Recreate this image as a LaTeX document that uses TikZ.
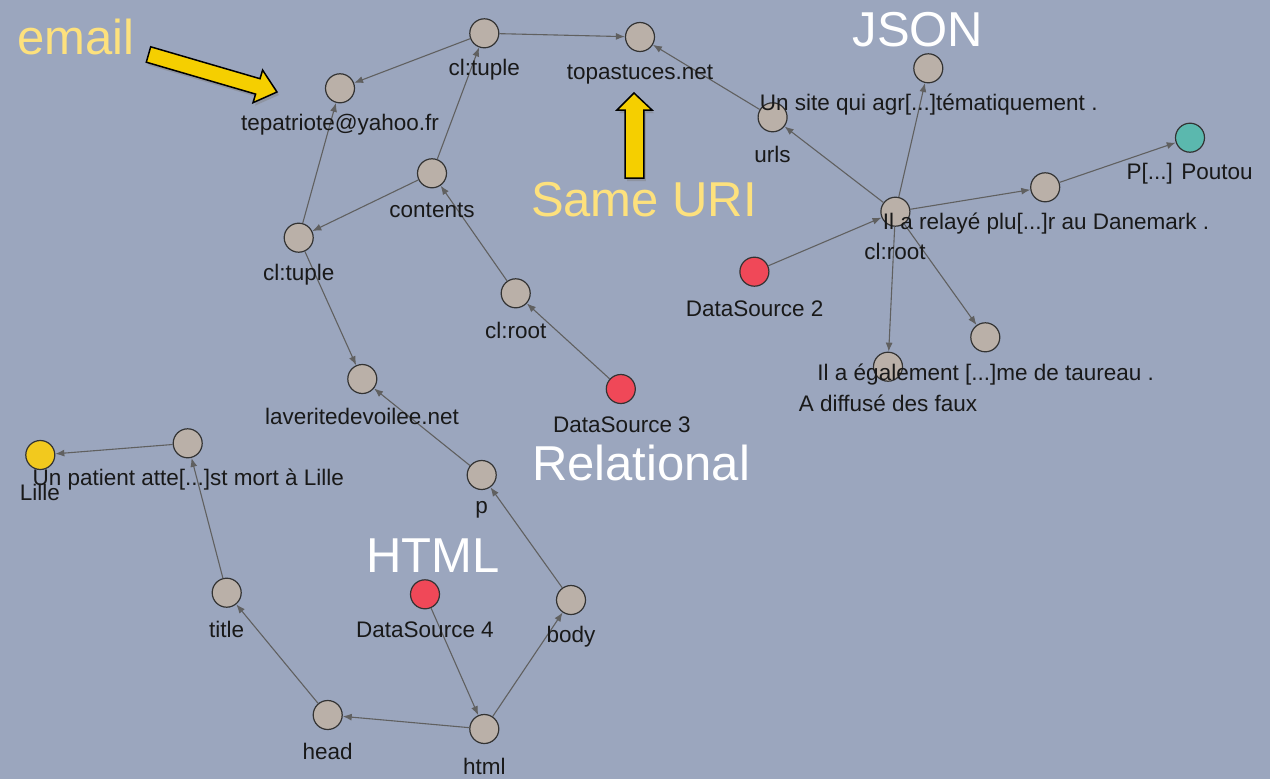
\documentclass[tikz,border=0pt]{standalone}
\usepackage{fontspec}
\setmainfont{Liberation Sans}
\usetikzlibrary{arrows.meta,shadows}
\definecolor{bg}{RGB}{155,166,190}
\definecolor{nodegray}{RGB}{186,176,168}
\definecolor{dsred}{RGB}{240,72,88}
\definecolor{teal}{RGB}{91,184,174}
\definecolor{lilleyellow}{RGB}{242,201,30}
\definecolor{edgegray}{RGB}{96,96,96}
\definecolor{bigyellow}{RGB}{253,225,125}
\definecolor{arrowyellow}{RGB}{245,207,0}
\tikzset{
  vnode/.style={circle, draw=black!80, line width=1.2pt, fill=nodegray, minimum size=29pt, inner sep=0pt},
  rednode/.style={vnode, fill=dsred},
  lbl/.style={font=\fontsize{22.5}{26}\selectfont, text=black!90, inner sep=0pt},
  big/.style={font=\fontsize{49}{56}\selectfont, inner sep=0pt},
  link/.style={draw=edgegray, line width=1.1pt, -{Latex[length=9pt,width=7pt]}},
  blockarrow/.style={fill=arrowyellow, draw=black, line width=1.5pt, line join=miter,
    drop shadow={shadow xshift=2pt, shadow yshift=-3pt, opacity=0.45}}
}
\begin{document}
\begin{tikzpicture}[x=1pt,y=-1pt]
\fill[bg] (0,0) rectangle (1270,779);
\useasboundingbox (0,0) rectangle (1270,779);

% nodes
\node[vnode] (ctA) at (484.3,33.3) {};
\node[vnode] (topa) at (640,37) {};
\node[vnode] (mail) at (340,88.3) {};
\node[vnode] (cont) at (432,173.3) {};
\node[vnode] (ctB) at (298.7,237.7) {};
\node[vnode] (croot3) at (515.7,293.3) {};
\node[rednode] (ds3) at (620.8,389) {};
\node[vnode] (laver) at (362.3,379) {};
\node[vnode] (pnode) at (481.7,475) {};
\node[vnode] (unpat) at (187.7,443.3) {};
\node[vnode, fill=lilleyellow] (lille) at (40.3,455) {};
\node[vnode] (title) at (226.7,592.7) {};
\node[rednode] (ds4) at (425,594.3) {};
\node[vnode] (body) at (571,600) {};
\node[vnode] (head) at (327.7,715) {};
\node[vnode] (html) at (484.3,729) {};
\node[vnode] (urls) at (772.6,117.3) {};
\node[vnode] (jsonA) at (928.3,68.3) {};
\node[vnode, fill=teal] (poutou) at (1190,137.7) {};
\node[vnode] (relay) at (1045.2,187.3) {};
\node[vnode] (croot) at (895.4,211.7) {};
\node[rednode] (ds2) at (754.4,271.7) {};
\node[vnode] (taur) at (985.3,337.3) {};
\node[vnode] (faux) at (888,366.7) {};

% edges
\draw[link] (ctA) -- (mail);
\draw[link] (ctA) -- (topa);
\draw[link] (cont) -- (ctA);
\draw[link] (cont) -- (ctB);
\draw[link] (ctB) -- (mail);
\draw[link] (ctB) -- (laver);
\draw[link] (croot3) -- (cont);
\draw[link] (ds3) -- (croot3);
\draw[link] (pnode) -- (laver);
\draw[link] (body) -- (pnode);
\draw[link] (html) -- (body);
\draw[link] (html) -- (head);
\draw[link] (ds4) -- (html);
\draw[link] (head) -- (title);
\draw[link] (title) -- (unpat);
\draw[link] (unpat) -- (lille);
\draw[link] (urls) -- (topa);
\draw[link] (croot) -- (urls);
\draw[link] (croot) -- (jsonA);
\draw[link] (croot) -- (relay);
\draw[link] (relay) -- (poutou);
\draw[link] (ds2) -- (croot);
\draw[link] (croot) -- (taur);
\draw[link] (croot) -- (faux);

% labels
\node[lbl] (lctA) at (484.3,70) {cl:tuple};
\node[lbl] (ltopa) at (640,75) {topastuces.net};
\node[lbl] (lmail) at (340,125) {tepatriote@yahoo.fr};
\node[lbl] (lcont) at (432,210) {contents};
\node[lbl] (lctB) at (298.7,275) {cl:tuple};
\node[lbl] (lcroot3) at (515.7,330) {cl:root};
\node[lbl] (lds3) at (622,425) {DataSource 3};
\node[lbl] (llaver) at (362,416) {laveritedevoilee.net};
\node[lbl] (lpnode) at (481.7,510) {p};
\node[lbl] (lunpat) at (188.3,480) {Un patient atte[...]st mort à Lille};
\node[lbl] (llille) at (40,492) {Lille};
\node[lbl] (ltitle) at (226.7,629.3) {title};
\node[lbl] (lds4) at (425,630) {DataSource 4};
\node[lbl] (lbody) at (571,637) {body};
\node[lbl] (lhead) at (327.7,751.7) {head};
\node[lbl] (lhtml) at (484.3,766) {html};
\node[lbl] (lurls) at (772.6,154) {urls};
\node[lbl] (ljsonA) at (928.7,105) {Un site qui agr[...]tématiquement .};
\node[lbl] (lpoutou) at (1189.6,174) {P[...] Poutou};
\node[lbl] (lrelay) at (1046,224) {Il a relayé plu[...]r au Danemark .};
\node[lbl] (lcroot) at (895,251) {cl:root};
\node[lbl] (lds2) at (754.7,308.3) {DataSource 2};
\node[lbl] (ltaur) at (985.7,375) {Il a également [...]me de taureau .};
\node[lbl] (lfaux) at (888,403.3) {A diffusé des faux};

% big annotations
\node[big, text=bigyellow] (temail) at (76,37) {email};
\node[big, text=white] (tjson) at (918,30) {JSON};
\node[big, text=bigyellow] (tsame) at (644,200) {Same URI};
\node[big, text=white] (trel) at (641,463) {Relational};
\node[big, text=white] (thtml) at (433,556) {HTML};

% block arrows
\draw[blockarrow] (150.7,46.8) -- (260.0,78.7) -- (262.6,70.1) -- (277,92) -- (253.0,102.7) -- (255.6,94.1) -- (146.3,62.2) -- cycle;
\draw[blockarrow] (625.2,178) -- (625.2,110) -- (617,110) -- (634,93) -- (652,110) -- (643.9,110) -- (643.9,178) -- cycle;
\end{tikzpicture}
\end{document}
